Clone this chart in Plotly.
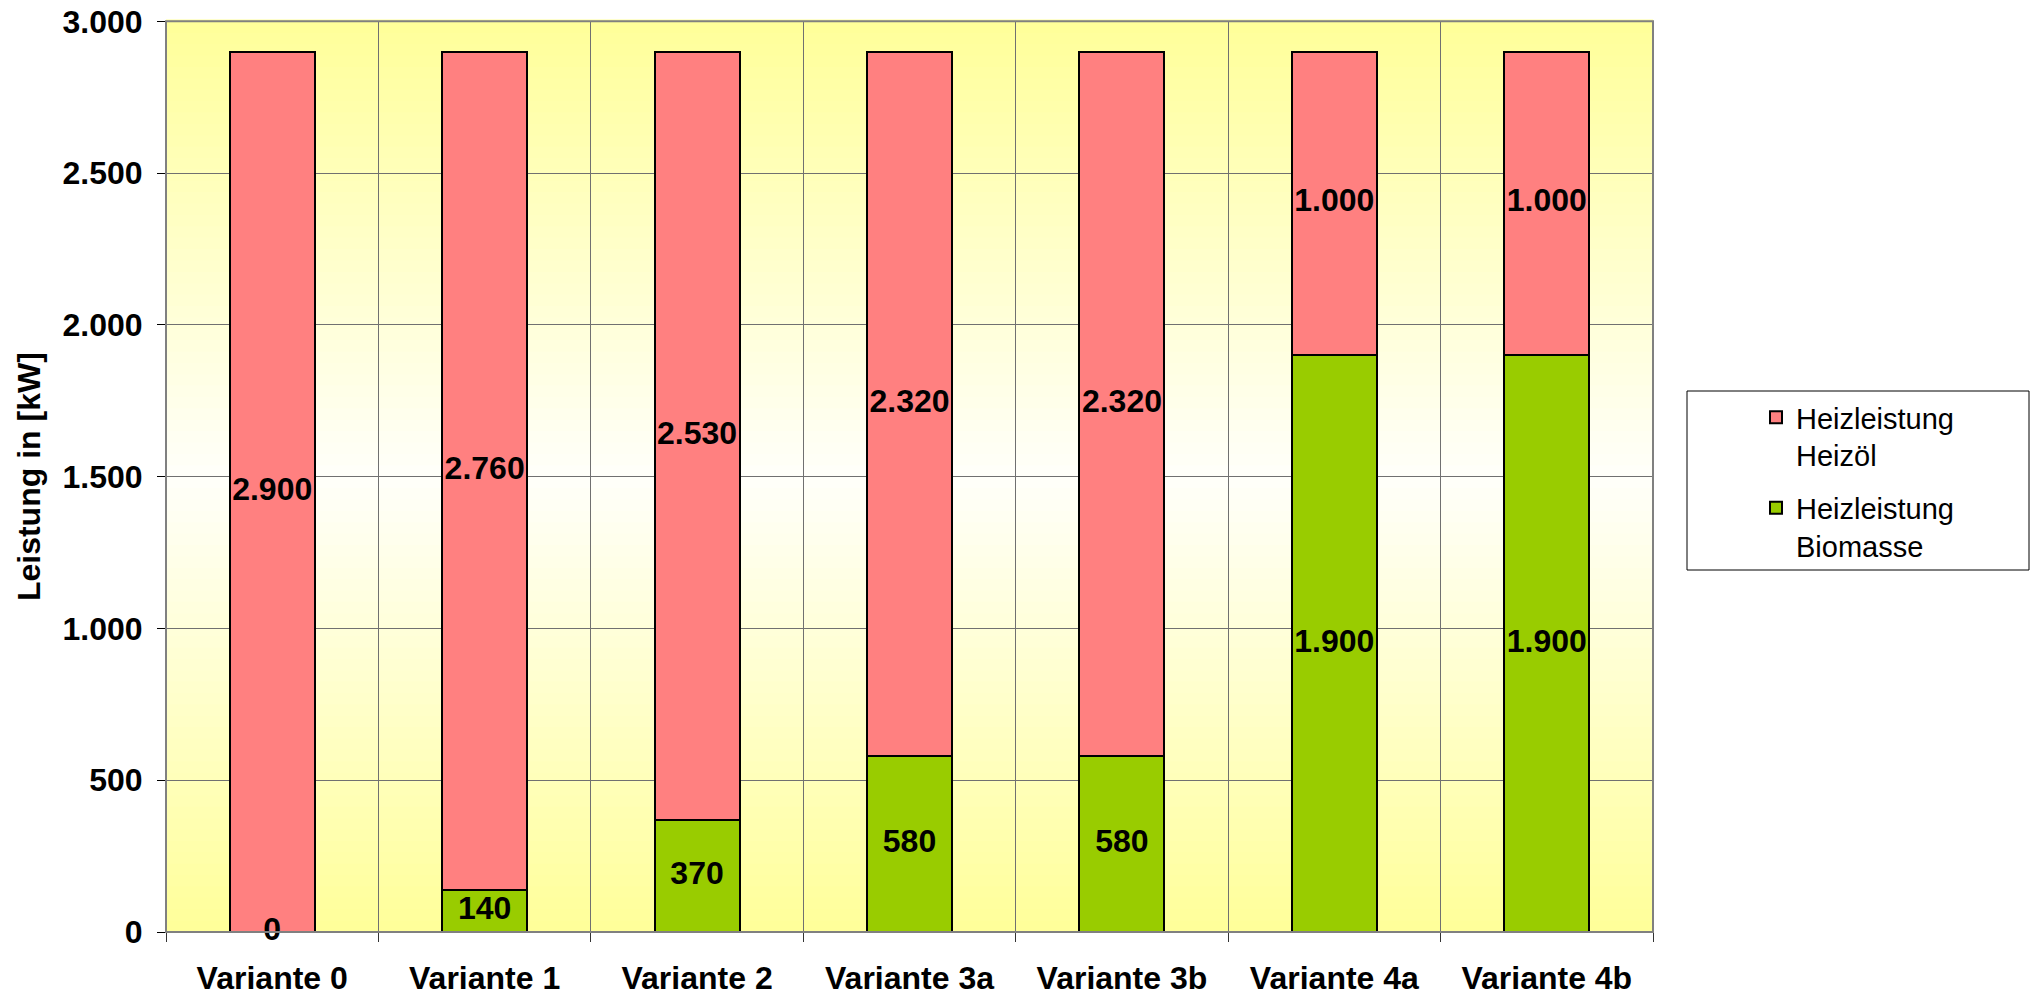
import plotly.graph_objects as go

categories = ["Variante 0", "Variante 1", "Variante 2", "Variante 3a", "Variante 3b", "Variante 4a", "Variante 4b"]
biomasse = [0, 140, 370, 580, 580, 1900, 1900]
heizoel = [2900, 2760, 2530, 2320, 2320, 1000, 1000]
y_ticks = [0, 500, 1000, 1500, 2000, 2500, 3000]

name_oel = "Heizleistung<br>Heizöl"
name_bio = "Heizleistung<br>Biomasse"
col_oel = "#FF8080"
col_bio = "#99CC00"

FONT = "Liberation Sans, Arial, sans-serif"
BOLD = 32


def fmt(v):
    return f"{v:,}".replace(",", ".")


fig = go.Figure()

fig.add_trace(go.Bar(
    x=categories, y=biomasse, name=name_bio, legendgroup="bio", legendrank=2,
    marker=dict(color=col_bio, line=dict(color="black", width=2)),
))
fig.add_trace(go.Bar(
    x=categories, y=heizoel, name=name_oel, legendgroup="oel", legendrank=1,
    marker=dict(color=col_oel, line=dict(color="black", width=2)),
))

# data labels centred in each segment
fig.add_trace(go.Scatter(
    x=categories, y=[b / 2 for b in biomasse], mode="text",
    text=[fmt(b) for b in biomasse], showlegend=False, hoverinfo="skip",
    textfont=dict(family=FONT, size=BOLD, color="black", weight="bold"),
    cliponaxis=False,
))
fig.add_trace(go.Scatter(
    x=categories, y=[b + h / 2 for b, h in zip(biomasse, heizoel)], mode="text",
    text=[fmt(h) for h in heizoel], showlegend=False, hoverinfo="skip",
    textfont=dict(family=FONT, size=BOLD, color="black", weight="bold"),
    cliponaxis=False,
))

# gradient background strips (yellow -> white -> yellow)
shapes = []
N = 80
top = (255, 255, 153)
mid = (255, 255, 250)
for i in range(N):
    t0 = i / N
    t1 = (i + 1) / N
    tc = (t0 + t1) / 2
    f = abs(tc - 0.5) * 2
    c = tuple(round(mid[k] * (1 - f) + top[k] * f) for k in range(3))
    shapes.append(dict(
        type="rect", xref="x domain", yref="y domain",
        x0=0, x1=1, y0=t0, y1=t1 + 0.002,
        fillcolor=f"rgb{c}", line=dict(width=0), layer="below",
    ))
# plot frame
shapes.append(dict(type="rect", xref="x domain", yref="y domain", x0=0, x1=1, y0=0, y1=1,
                   line=dict(color="#808080", width=2), fillcolor="rgba(0,0,0,0)", layer="above"))
# legend frame
shapes.append(dict(type="rect", xref="paper", yref="paper",
                   x0=1687 / 2038, x1=2029 / 2038, y0=(996 - 570) / 996, y1=(996 - 391) / 996,
                   line=dict(color="black", width=1), fillcolor="white", layer="below"))

fig.update_layout(
    width=2038, height=996,
    margin=dict(l=0, r=0, t=0, b=0, autoexpand=False),
    paper_bgcolor="white", plot_bgcolor="white",
    barmode="stack", bargap=0.6,
    separators=",.",
    font=dict(family=FONT, color="black"),
    shapes=shapes,
    showlegend=True,
    legend=dict(
        x=1756 / 2038, y=(996 - 392) / 996, xanchor="left", yanchor="top",
        traceorder="grouped", valign="top",
        font=dict(family=FONT, size=29, color="black"),
        bgcolor="rgba(0,0,0,0)", borderwidth=0,
        tracegroupgap=12,
    ),
    xaxis=dict(
        domain=[166 / 2038, 1653 / 2038],
        type="category", range=[-0.5, 6.5], automargin=False,
        tickson="boundaries", ticks="outside", ticklen=9, tickcolor="#333",
        showgrid=True, gridcolor="#707070", gridwidth=1,
        showline=True, linecolor="black", linewidth=1,
        tickfont=dict(family=FONT, size=BOLD, color="black", weight="bold"),
        ticklabelstandoff=18,
    ),
    yaxis=dict(
        domain=[(996 - 932) / 996, (996 - 21.3) / 996], automargin=False,
        range=[0, 3000], tickvals=y_ticks, tickformat=",d",
        ticks="outside", ticklen=8, tickcolor="black",
        showgrid=True, gridcolor="#707070", gridwidth=1,
        showline=True, linecolor="#808080", linewidth=1,
        zeroline=False,
        tickfont=dict(family=FONT, size=BOLD, color="black", weight="bold"),
        ticklabelstandoff=8,
        title=dict(text="Leistung in [kW]", standoff=12,
                   font=dict(family=FONT, size=BOLD, color="black", weight="bold")),
    ),
)

fig.write_html("out.html")
